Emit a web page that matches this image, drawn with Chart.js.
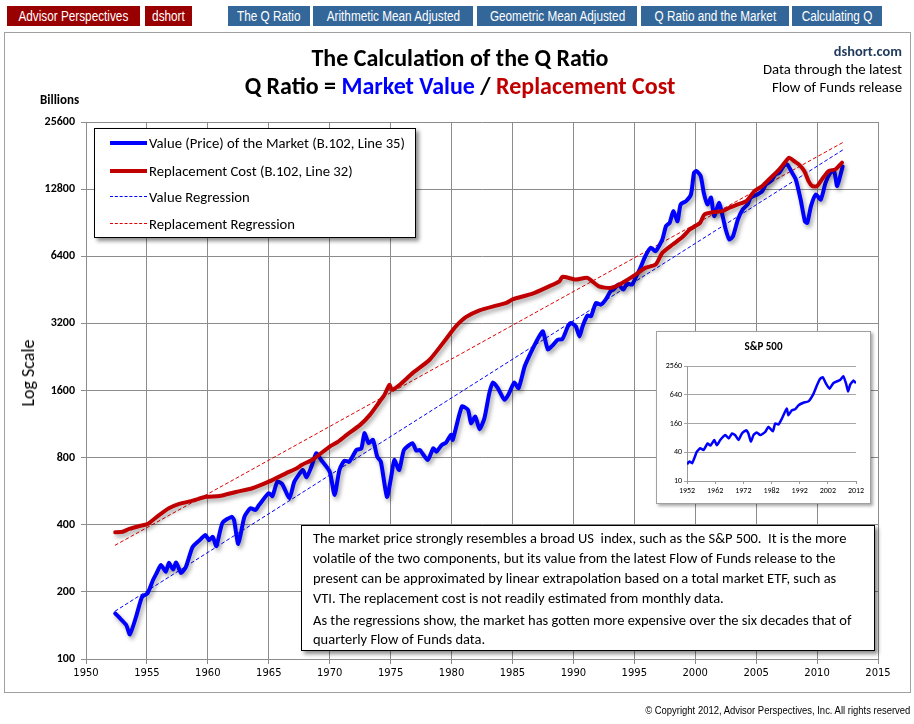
<!DOCTYPE html>
<html>
<head>
<meta charset="utf-8">
<script src="https://cdn.jsdelivr.net/npm/chart.js@4.4.1/dist/chart.umd.min.js"></script>
<style>
body { margin: 0; background: #fff; }
#page { position: relative; width: 914px; height: 724px; overflow: hidden; font-family: Carlito, Lato, sans-serif; color: #000; }
.abs { position: absolute; white-space: nowrap; }
.tab { position: absolute; top: 6px; height: 20px; line-height: 20px; color: #fff; text-align: center; white-space: nowrap;
       font-family: "Liberation Sans", Arial, sans-serif; font-size: 14px; }
.tab span { display: inline-block; transform: scaleX(0.84); }
.red { background: #990000; }
.blue { background: #336699; }
#frame { position: absolute; left: 4px; top: 32px; width: 905px; height: 659px; border: 1px solid #a0a0a0; }
#legend { position: absolute; left: 94px; top: 128px; width: 320px; height: 108px; border: 1px solid #000; background: #fff;
          box-shadow: 3px 3px 4px rgba(0,0,0,0.45); font-size: 14.7px; }
.item { position: absolute; left: 0; height: 20px; line-height: 20px; white-space: nowrap; }
.sample { position: absolute; left: 15px; top: 9px; width: 37px; }
.item span { position: absolute; left: 54px; }
#note { position: absolute; left: 301px; top: 525px; width: 572px; height: 124px; border: 1px solid #000; background: #fff;
        box-shadow: 3px 3px 4px rgba(0,0,0,0.45); font-size: 14.5px; }
#note div { position: absolute; left: 11px; white-space: nowrap; height: 20px; line-height: 20px; }
#inset { position: absolute; left: 656px; top: 331px; width: 213px; height: 171px; border: 1px solid #a0a0a0; background: #fff;
         box-shadow: 2px 2px 3px rgba(0,0,0,0.35); }
</style>
</head>
<body>
<div id="page">
  <div class="tab red" style="left:7px;width:133px;"><span>Advisor Perspectives</span></div>
  <div class="tab red" style="left:145px;width:47px;"><span>dshort</span></div>
  <div class="tab blue" style="left:228px;width:82px;"><span>The Q Ratio</span></div>
  <div class="tab blue" style="left:313px;width:160px;"><span>Arithmetic Mean Adjusted</span></div>
  <div class="tab blue" style="left:477px;width:160px;"><span>Geometric Mean Adjusted</span></div>
  <div class="tab blue" style="left:641px;width:148px;"><span>Q Ratio and the Market</span></div>
  <div class="tab blue" style="left:792px;width:90px;"><span>Calculating Q</span></div>

  <div id="frame"></div>
  <canvas id="chart" width="914" height="724" style="position:absolute;left:0;top:0;"></canvas>

  <div class="abs" style="left:0;width:920px;top:43px;text-align:center;font-size:24px;font-weight:bold;">The Calculation of the Q Ratio</div>
  <div class="abs" style="left:0;width:920px;top:71px;text-align:center;font-size:24px;font-weight:bold;">Q Ratio = <span style="color:#0000ff">Market Value</span> / <span style="color:#c00000">Replacement Cost</span></div>

  <div class="abs" style="right:12px;top:42px;font-size:14.4px;font-weight:bold;color:#1f3a5c;">dshort.com</div>
  <div class="abs" style="right:12px;top:60px;font-size:14.8px;">Data through the latest</div>
  <div class="abs" style="right:12px;top:78px;font-size:14.8px;">Flow of Funds release</div>

  <div class="abs" style="left:40px;top:92px;font-size:13px;font-weight:bold;">Billions</div>
  <div class="abs" style="left:28px;top:373px;font-size:18px;color:#000;transform:translate(-50%,-50%) rotate(-90deg);">Log Scale</div>

  <div id="legend">
    <div class="item" style="top:4px;"><div class="sample" style="border-top:4px solid #0000ff;top:8px;"></div><span>Value (Price) of the Market (B.102, Line 35)</span></div>
    <div class="item" style="top:32px;"><div class="sample" style="border-top:4px solid #c00000;top:8px;"></div><span>Replacement Cost (B.102, Line 32)</span></div>
    <div class="item" style="top:58px;"><div class="sample" style="border-top:1px dashed #0000ff;"></div><span>Value Regression</span></div>
    <div class="item" style="top:85px;"><div class="sample" style="border-top:1px dashed #e00000;"></div><span>Replacement Regression</span></div>
  </div>

  <div id="inset">
    <div class="abs" style="left:0;width:213px;top:8px;text-align:center;font-size:11px;font-weight:bold;">S&amp;P 500</div>
    <canvas id="spx" width="213" height="171" style="position:absolute;left:0;top:0;"></canvas>
  </div>

  <div id="note">
    <div style="top:2px;">The market price strongly resembles a broad US&nbsp; index, such as the S&amp;P 500.&nbsp; It is the more</div>
    <div style="top:22px;">volatile of the two components, but its value from the latest Flow of Funds release to the</div>
    <div style="top:42px;">present can be approximated by linear extrapolation based on a total market ETF, such as</div>
    <div style="top:62px;">VTI. The replacement cost is not readily estimated from monthly data.</div>
    <div style="top:84px;">As the regressions show, the market has gotten more expensive over the six decades that of</div>
    <div style="top:103px;">quarterly Flow of Funds data.</div>
  </div>

  <div class="abs" style="right:4px;top:704px;font-size:11px;font-family:'Liberation Sans',Arial,sans-serif;transform:scaleX(0.86);transform-origin:right center;">© Copyright 2012, Advisor Perspectives, Inc. All rights reserved</div>
</div>

<script>
// y axis ticks (billions, log scale doubling)
const yTicks = [100, 200, 400, 800, 1600, 3200, 6400, 12800, 25600];

// Value (Price) of the Market, B.102 Line 35
const valueYears = [
  1952.4, 1952.7, 1953.3, 1953.6, 1954.1, 1954.6, 1955.05, 1955.5, 1955.8, 1956.15,
  1956.55, 1956.8, 1957.15, 1957.4, 1957.8, 1958.2, 1958.75, 1959.4, 1959.8, 1960.1,
  1960.4, 1960.7, 1961.2, 1961.95, 1962.15, 1962.5, 1963.0, 1963.5, 1963.9, 1964.2,
  1965.0, 1965.3, 1965.7, 1966.1, 1966.7, 1967.1, 1967.8, 1968.1, 1968.5, 1968.9,
  1969.3, 1970.0, 1970.4, 1970.8, 1971.2, 1971.6, 1972.2, 1972.6, 1972.85, 1973.2,
  1973.55, 1973.9, 1974.2, 1974.7, 1975.05, 1975.3, 1975.7, 1976.1, 1976.8, 1977.1,
  1977.4, 1978.05, 1978.5, 1978.75, 1979.2, 1979.55, 1979.95, 1980.1, 1980.85, 1981.35,
  1981.6, 1981.95, 1982.3, 1982.7, 1983.1, 1983.4, 1983.8, 1984.35, 1984.7, 1985.15,
  1985.5, 1986.0, 1986.4, 1986.8, 1987.2, 1987.5, 1987.9, 1988.3, 1988.7, 1989.1,
  1989.55, 1989.8, 1990.2, 1990.5, 1990.75, 1991.15, 1991.45, 1991.85, 1992.25, 1992.65,
  1993.05, 1993.3, 1993.7, 1994.1, 1994.4, 1994.8, 1995.1, 1995.5, 1995.9, 1996.35,
  1996.75, 1997.3, 1997.6, 1997.9, 1998.2, 1998.55, 1998.8, 1999.25, 1999.65, 1999.9,
  2000.1, 2000.45, 2000.7, 2001.0, 2001.3, 2001.55, 2001.95, 2002.25, 2002.5, 2002.8,
  2003.1, 2003.5, 2003.9, 2004.3, 2004.55, 2005.1, 2005.5, 2005.8, 2006.2, 2006.6,
  2006.9, 2007.3, 2007.55, 2007.95, 2008.25, 2008.65, 2009.0, 2009.2, 2009.5, 2009.9,
  2010.3, 2010.7, 2011.1, 2011.4, 2011.65, 2012.1
];
const valueBillions = [
  160, 154, 142, 129, 154, 190, 197, 226, 243, 264,
  246, 270, 252, 271, 243, 259, 318, 344, 360, 341,
  353, 321, 408, 434, 420, 328, 434, 474, 466, 490,
  554, 538, 624, 609, 526, 624, 704, 653, 729, 837,
  781, 692, 544, 704, 775, 767, 866, 881, 1030, 929,
  961, 808, 767, 534, 657, 781, 704, 866, 929, 860,
  866, 781, 881, 851, 912, 934, 1012, 961, 1356, 1310,
  1142, 1223, 1073, 1203, 1557, 1738, 1640, 1453, 1546, 1738,
  1640, 2050, 2300, 2550, 2800, 2945, 2450, 2550, 2700, 2723,
  3101, 3213, 3101, 2797, 3101, 3466, 3450, 3950, 3882, 4088,
  4456, 4536, 4775, 4536, 4826, 4775, 5117, 5678, 6400, 6983,
  6745, 7608, 8733, 9040, 10200, 9191, 10930, 11310, 12120, 15170,
  15430, 14640, 12330, 10930, 11714, 9684, 11120, 9684, 8441, 7608,
  7873, 9357, 10380, 10930, 11714, 12120, 12540, 13440, 13900, 14900,
  15170, 16360, 16530, 15170, 14160, 11500, 9191, 9040, 10740, 12120,
  11500, 13680, 15170, 15430, 13210, 16200
];

// Replacement Cost, B.102 Line 32
const costYears = [
  1952.4, 1953.0, 1953.55, 1954.4, 1955.05, 1956.0, 1956.8, 1957.65, 1958.75, 1959.85,
  1960.95, 1962.3, 1963.65, 1965.0, 1966.4, 1967.3, 1967.7, 1968.65, 1970.0, 1970.7,
  1971.4, 1972.5, 1973.3, 1974.1, 1974.5, 1974.9, 1975.1, 1975.75, 1976.8, 1978.2,
  1979.55, 1980.35, 1981.2, 1982.3, 1983.65, 1984.5, 1985.0, 1986.65, 1988.0, 1988.85,
  1989.1, 1990.2, 1991.15, 1992.1, 1993.05, 1994.0, 1995.1, 1995.9, 1996.75, 1997.3,
  1998.15, 1998.95, 1999.55, 2000.4, 2000.75, 2001.45, 2002.25, 2002.8, 2003.5, 2004.2,
  2004.85, 2005.5, 2006.2, 2006.9, 2007.45, 2007.7, 2008.1, 2008.5, 2008.95, 2009.3,
  2009.6, 2010.0, 2010.4, 2010.95, 2011.5, 2012.05
];
const costBillions = [
  370, 372, 383, 395, 403, 442, 474, 496, 513, 534,
  538, 561, 583, 624, 680, 717, 742, 787, 897, 944,
  1012, 1122, 1244, 1428, 1530, 1697, 1611, 1697, 1915, 2198,
  2723, 3101, 3420, 3661, 3843, 3950, 4100, 4350, 4690, 4940,
  5173, 5031, 5117, 4690, 4614, 4860, 5297, 5678, 5873, 6630,
  7225, 7800, 8441, 9040, 9850, 10090, 10200, 10560, 10930, 11310,
  12540, 13210, 14400, 15700, 17110, 17720, 17110, 16530, 15430, 13900,
  13210, 13210, 14160, 15430, 15700, 16820
];

// regression lines (end points)
const regYears = [1952.4, 2012.1];
const valueRegression = [164, 19170];
const costRegression = [324, 20700];

// inset: S&P 500
const spxTicks = [10, 40, 160, 640, 2560];
const spxYears = [
  1952, 1952.9, 1953.8, 1954.6, 1955.5, 1956.7, 1957.9, 1959.3, 1960.3, 1961.7,
  1962.6, 1963.8, 1965.6, 1966.8, 1968.0, 1969.1, 1970.3, 1971.5, 1973.0, 1973.8,
  1974.7, 1975.6, 1976.8, 1978.0, 1979.8, 1980.9, 1982.5, 1983.3, 1984.5, 1985.7,
  1987.4, 1988.0, 1989.2, 1990.4, 1991.6, 1993.3, 1995.1, 1996.9, 1998.1, 1999.2,
  2000.2, 2001.4, 2002.6, 2004.0, 2006.4, 2007.5, 2008.5, 2009.2, 2009.9, 2011.1,
  2011.7, 2012
];
const spxValues = [
  22.5, 25.6, 23.6, 30, 41.3, 48.3, 44.6, 61.4, 55, 72,
  56, 72, 91.6, 78, 99, 91.6, 72, 99, 116, 99,
  66.7, 91.6, 104, 91.6, 107, 136, 110, 160, 153, 203,
  328, 238, 302, 318, 385, 435, 465, 670, 1000, 1370,
  1490, 1080, 855, 1130, 1310, 1560, 1080, 750, 1030, 1270,
  1170, 1130
];

const toPoints = (xs, ys) => xs.map((x, i) => ({ x: x, y: ys[i] }));

const gridColor = '#8c8c8c';
const bodyFont = 'Carlito, Lato, sans-serif';

// soft drop shadow under the thick series lines
const shadowPlugin = {
  id: 'lineShadow',
  beforeDatasetDraw(chart, args) {
    if (!chart.data.datasets[args.index].shadow) return;
    const c = chart.ctx;
    c.save();
    c.shadowColor = 'rgba(0,0,0,0.35)';
    c.shadowBlur = 4;
    c.shadowOffsetX = 2;
    c.shadowOffsetY = 3;
  },
  afterDatasetDraw(chart, args) {
    if (chart.data.datasets[args.index].shadow) chart.ctx.restore();
  }
};

new Chart(document.getElementById('chart'), {
  type: 'line',
  data: {
    datasets: [
      { label: 'Replacement Cost (B.102, Line 32)', data: toPoints(costYears, costBillions),
        borderColor: '#c00000', borderWidth: 4, shadow: true, order: 1 },
      { label: 'Value (Price) of the Market (B.102, Line 35)', data: toPoints(valueYears, valueBillions),
        borderColor: '#0000ff', borderWidth: 4, shadow: true, order: 2 },
      { label: 'Value Regression', data: toPoints(regYears, valueRegression),
        borderColor: '#0000ff', borderWidth: 1, borderDash: [3, 3], tension: 0, order: 3 },
      { label: 'Replacement Regression', data: toPoints(regYears, costRegression),
        borderColor: '#e00000', borderWidth: 1, borderDash: [3, 3], tension: 0, order: 3 }
    ]
  },
  options: {
    responsive: false,
    animation: false,
    layout: { padding: { left: 0, top: 122, right: 36, bottom: 35 } },
    elements: {
      point: { radius: 0 },
      line: { tension: 0.2, borderJoinStyle: 'round', borderCapStyle: 'round' }
    },
    plugins: { legend: { display: false }, tooltip: { enabled: false } },
    scales: {
      x: {
        type: 'linear', min: 1950, max: 2015,
        afterFit: s => { s.height = 30; },
        ticks: { stepSize: 5, callback: v => String(v), color: '#000', padding: 3,
                 font: { family: 'DejaVu Sans', size: 10 } },
        grid: { color: gridColor, tickLength: 5 },
        border: { color: gridColor }
      },
      y: {
        type: 'logarithmic', min: 100, max: 25600,
        afterFit: s => { s.width = 86; },
        afterBuildTicks: s => { s.ticks = yTicks.map(v => ({ value: v })); },
        ticks: { autoSkip: false, callback: v => String(v), color: '#000', padding: 6,
                 font: { family: bodyFont, size: 12, weight: 'bold' } },
        grid: { color: gridColor, tickLength: 5 },
        border: { color: gridColor }
      }
    }
  },
  plugins: [shadowPlugin]
});

new Chart(document.getElementById('spx'), {
  type: 'line',
  data: {
    datasets: [
      { label: 'S&P 500', data: toPoints(spxYears, spxValues), borderColor: '#0000ff', borderWidth: 2.5 }
    ]
  },
  options: {
    responsive: false,
    animation: false,
    layout: { padding: { left: 0, top: 34, right: 14, bottom: 0 } },
    elements: { point: { radius: 0 }, line: { tension: 0.15 } },
    plugins: { legend: { display: false }, tooltip: { enabled: false } },
    scales: {
      x: {
        type: 'linear', min: 1952, max: 2012,
        afterFit: s => { s.height = 22; },
        ticks: { stepSize: 10, callback: v => String(v), color: '#000', padding: 2,
                 font: { family: bodyFont, size: 8 } },
        grid: { drawOnChartArea: false, color: '#999', tickLength: 3 },
        border: { color: '#999' }
      },
      y: {
        type: 'logarithmic', min: 10, max: 2560,
        afterFit: s => { s.width = 30; },
        afterBuildTicks: s => { s.ticks = spxTicks.map(v => ({ value: v })); },
        ticks: { autoSkip: false, callback: v => String(v), color: '#000', padding: 2,
                 font: { family: bodyFont, size: 8 } },
        grid: { color: '#a6a6a6', tickLength: 3 },
        border: { color: '#999' }
      }
    }
  }
});
</script>
</body>
</html>
